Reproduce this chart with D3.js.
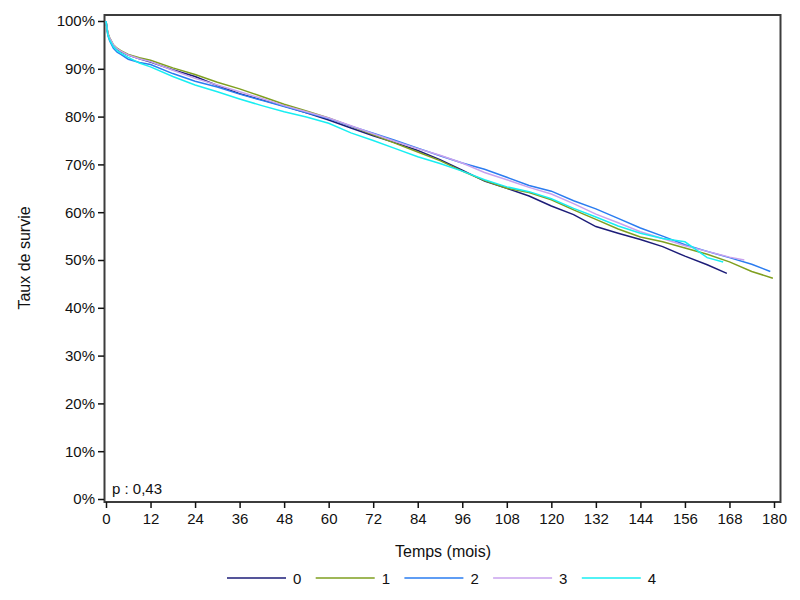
<!DOCTYPE html>
<html>
<head>
<meta charset="utf-8">
<script src="https://cdn.jsdelivr.net/npm/d3@7"></script>
<style>
  body { margin: 0; background: #fff; }
  svg { font-family: "Liberation Sans", Arial, sans-serif; }
  .axis text { font-size: 15px; fill: #111; }
</style>
</head>
<body>
<div class="chart"></div>
<script>
// survival data (months, % surviving)
var months = [0, 0.5, 1, 2, 3, 4, 6, 9, 12, 18, 24, 30, 36, 42, 48, 54, 60, 66, 72, 78,
  84, 90, 96, 102, 108, 114, 120, 126, 132, 138, 144, 150, 156, 162, 168, 174];

var group0 = [100, 97.3, 96.3, 94.8, 94.1, 93.6, 92.9, 92.1, 91.4, 89.8, 88.4, 86.5, 84.8, 83.5, 82.2, 80.8, 79.3, 77.6, 76.0, 74.5,
  72.9, 71.0, 68.8, 66.5, 65.0, 63.4, 61.3, 59.5, 57.0, 55.6, 54.3, 52.8, 50.8, 49.0];
var group1 = [100, 97.5, 96.5, 95.0, 94.3, 93.8, 93.0, 92.3, 91.8, 90.2, 88.8, 87.2, 85.8, 84.2, 82.6, 81.2, 79.7, 78.0, 76.2, 74.4,
  72.6, 70.8, 68.6, 66.6, 65.0, 64.1, 62.6, 60.5, 58.5, 56.5, 54.8, 53.8, 52.5, 51.2, 49.6, 47.6];
var group2 = [100, 97.0, 95.8, 94.3, 93.5, 93.0, 92.0, 91.3, 90.9, 89.0, 87.4, 86.2, 84.7, 83.4, 82.1, 80.8, 79.6, 78.0, 76.5, 75.0,
  73.4, 71.8, 70.3, 69.0, 67.3, 65.6, 64.4, 62.4, 60.7, 58.7, 56.7, 55.0, 53.2, 51.8, 50.5, 49.1];
var group3 = [100, 97.4, 96.4, 95.0, 94.2, 93.7, 92.9, 92.1, 91.5, 89.7, 88.0, 86.6, 85.2, 83.8, 82.3, 81.0, 79.7, 78.1, 76.4, 74.8,
  73.3, 71.9, 70.3, 68.3, 66.8, 65.2, 63.8, 61.8, 59.6, 57.8, 55.9, 54.5, 53.0, 51.8, 50.6];
var group4 = [100, 97.0, 96.0, 94.6, 93.8, 93.3, 92.4, 91.2, 90.4, 88.4, 86.6, 85.2, 83.7, 82.3, 81.0, 79.9, 78.6, 76.6, 75.0, 73.3,
  71.6, 70.2, 68.6, 66.8, 65.3, 64.3, 62.8, 60.8, 59.0, 57.1, 55.6, 54.5, 53.8, 50.5];

// last follow-up point of each group
var endMonths = [167.3, 179.7, 179, 172, 166.3];
var endValues = [47.2, 46.2, 47.6, 50.0, 49.6];

var groupNames = ["0", "1", "2", "3", "4"];
var groupColors = ["#1c1c78", "#7f9f1f", "#2a7cf0", "#c8a2ee", "#18eef2"];

var xTicks = d3.range(0, 181, 12);
var yTicks = d3.range(0, 1.01, 0.1);

var svgWidth = 800;
var svgHeight = 600;

var svg = d3.select(".chart")
  .append("svg")
  .attr("width", svgWidth)
  .attr("height", svgHeight);

// scales
var xScale = d3.scaleLinear().domain([0, 180]).range([106, 774]);
var yScale = d3.scaleLinear().domain([0, 1]).range([499, 21]);

// frame
svg.append("rect")
  .attr("x", 104.5)
  .attr("y", 15)
  .attr("width", 676)
  .attr("height", 487)
  .attr("fill", "none")
  .attr("stroke", "#3c3c3c")
  .attr("stroke-width", 2);

// axes
var xAxis = d3.axisBottom(xScale).tickValues(xTicks).tickSize(6).tickPadding(5);
var yAxis = d3.axisLeft(yScale).tickValues(yTicks).tickSize(6).tickPadding(3)
  .tickFormat(d3.format(".0%"));

svg.append("g")
  .attr("class", "axis")
  .attr("transform", "translate(0, 502)")
  .call(xAxis)
  .call(g => g.select(".domain").remove());

svg.append("g")
  .attr("class", "axis")
  .attr("transform", "translate(104, 0)")
  .call(yAxis)
  .call(g => g.select(".domain").remove());

svg.selectAll(".axis .tick line").attr("stroke", "#111").attr("stroke-width", 1.5);

// curves
var line = d3.line()
  .x(d => xScale(d[0]))
  .y(d => yScale(d[1] / 100));

var groups = [group0, group1, group2, group3, group4];
var series = groups.map(function(vals, i) {
  var pts = vals.map((v, j) => [months[j], v]);
  pts.push([endMonths[i], endValues[i]]);
  return pts;
});

svg.selectAll(".curve")
  .data(series)
  .enter()
  .append("path")
  .attr("class", "curve")
  .attr("d", line)
  .attr("fill", "none")
  .attr("stroke", (d, i) => groupColors[i])
  .attr("stroke-width", 1.5);

// p value
svg.append("text")
  .attr("x", 112)
  .attr("y", 494)
  .attr("font-size", 15)
  .attr("fill", "#111")
  .text("p : 0,43");

// axis titles
svg.append("text")
  .attr("transform", "translate(30, 258) rotate(-90)")
  .attr("text-anchor", "middle")
  .attr("font-size", 16)
  .attr("fill", "#111")
  .text("Taux de survie");

svg.append("text")
  .attr("x", 443)
  .attr("y", 557)
  .attr("text-anchor", "middle")
  .attr("font-size", 16)
  .attr("fill", "#111")
  .text("Temps (mois)");

// legend
var legend = svg.selectAll(".legend")
  .data(groupNames)
  .enter()
  .append("g")
  .attr("class", "legend")
  .attr("transform", (d, i) => `translate(${227 + i * 88.7}, 578)`);

legend.append("line")
  .attr("x1", 0)
  .attr("x2", 59)
  .attr("stroke", (d, i) => groupColors[i])
  .attr("stroke-width", 1.5);

legend.append("text")
  .attr("x", 66)
  .attr("y", 5.5)
  .attr("font-size", 15)
  .attr("fill", "#111")
  .text(d => d);
</script>
</body>
</html>
